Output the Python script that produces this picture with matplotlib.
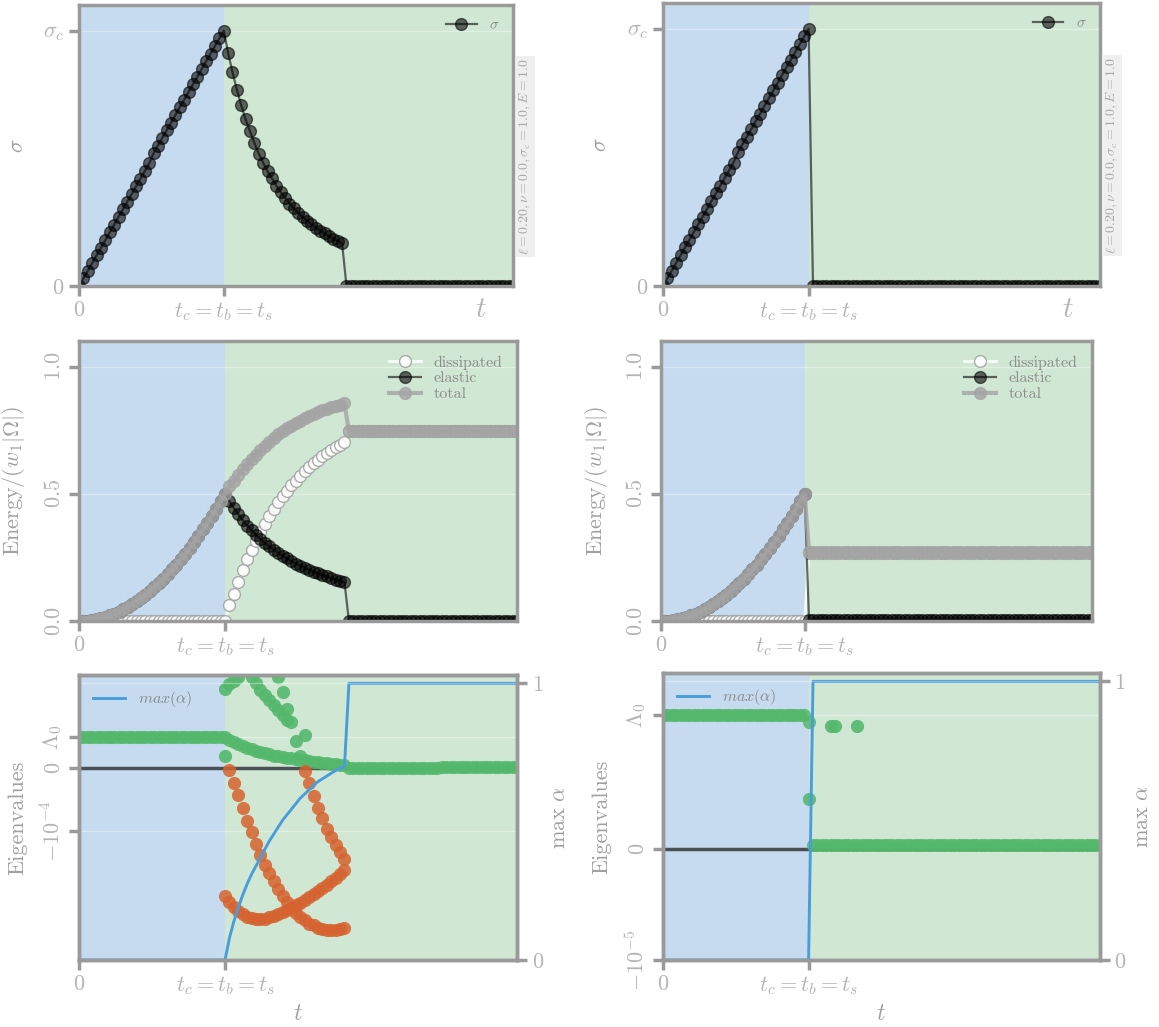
import numpy as np
import matplotlib
matplotlib.use("Agg")
import matplotlib.pyplot as plt

plt.rcParams['mathtext.fontset'] = 'cm'
plt.rcParams['font.family'] = ['cmr10', 'DejaVu Serif']
plt.rcParams['axes.formatter.use_mathtext'] = True

# ---------------- data ----------------
t_max = 3.0
t_c = 1.0
t = np.linspace(0, t_max, 100)          # uniform load steps

# stress, elastic phase (steps 0..33), same in both runs
stress_ramp = [0.00, 0.03, 0.06, 0.09, 0.12, 0.15, 0.18, 0.21, 0.24, 0.27, 0.30, 0.33,
               0.36, 0.39, 0.42, 0.45, 0.48, 0.52, 0.55, 0.58, 0.61, 0.64, 0.67, 0.70,
               0.73, 0.76, 0.79, 0.82, 0.85, 0.88, 0.91, 0.94, 0.97, 1.00]
# softening branch of the left run (steps 34..60)
stress_soft_l = [0.913, 0.837, 0.768, 0.707, 0.652, 0.605, 0.560, 0.518, 0.482, 0.449,
                 0.421, 0.393, 0.367, 0.345, 0.323, 0.304, 0.286, 0.270, 0.255, 0.241,
                 0.229, 0.217, 0.206, 0.195, 0.185, 0.176, 0.167]
stress_l = stress_ramp + stress_soft_l + [0.0] * 39
stress_r = stress_ramp + [0.0] * 66

# energies
elastic_ramp = [0.000, 0.0005, 0.002, 0.004, 0.007, 0.011, 0.017, 0.022, 0.029, 0.037,
                0.046, 0.056, 0.066, 0.078, 0.090, 0.103, 0.118, 0.133, 0.149, 0.166,
                0.184, 0.203, 0.222, 0.243, 0.264, 0.287, 0.310, 0.335, 0.360, 0.386,
                0.413, 0.441, 0.470, 0.500]
elastic_soft_l = [0.470, 0.444, 0.419, 0.396, 0.375, 0.357, 0.339, 0.322, 0.307, 0.293,
                  0.281, 0.268, 0.256, 0.246, 0.235, 0.226, 0.217, 0.209, 0.201, 0.194,
                  0.187, 0.181, 0.175, 0.168, 0.163, 0.157, 0.152]
dissip_soft_l = [0.062, 0.108, 0.155, 0.200, 0.242, 0.280, 0.315, 0.350, 0.382, 0.412,
                 0.440, 0.466, 0.490, 0.512, 0.533, 0.552, 0.570, 0.588, 0.604, 0.619,
                 0.633, 0.647, 0.660, 0.672, 0.683, 0.693, 0.703]
total_soft_l = [0.532, 0.552, 0.574, 0.596, 0.617, 0.637, 0.654, 0.672, 0.689, 0.705,
                0.721, 0.734, 0.746, 0.758, 0.768, 0.778, 0.787, 0.797, 0.805, 0.813,
                0.820, 0.828, 0.835, 0.840, 0.846, 0.850, 0.855]
elastic_l = elastic_ramp + elastic_soft_l + [0.0] * 39
dissip_l = [0.0] * 34 + dissip_soft_l + [0.745] * 39
total_l = elastic_ramp + total_soft_l + [0.745] * 39

elastic_r = elastic_ramp + [0.004] * 66
dissip_r = [0.0] * 34 + [0.268] * 66
total_r = elastic_ramp + [0.272] * 66

# eigenvalues, left run (units of 1e-4)
lam0_l = 0.49
eig_main_l = [0.49] * 33 + [0.49, 0.45, 0.41, 0.38, 0.35, 0.32, 0.30, 0.28, 0.26, 0.24,
                            0.22, 0.20, 0.19, 0.175, 0.165, 0.155, 0.145, 0.135, 0.125,
                            0.115, 0.105, 0.095, 0.085, 0.078, 0.07, 0.063, 0.056, 0.05] \
             + [0.0] * 21 + [0.015] * 18
eig_extra_step_l = [33, 34, 35, 36, 33, 39, 40, 41, 42, 43, 44, 45, 46, 47, 48,
                    45, 46, 47, 49, 50, 51]
eig_extra_val_l = [1.26, 1.33, 1.39, 1.45, 0.19, 1.455, 1.35, 1.24, 1.16, 1.08, 1.00,
                   0.93, 0.85, 0.77, 0.73, 1.455, 1.21, 0.94, 0.43, 0.20, 0.53]
neg_a_l = [-0.03, -0.24, -0.43, -0.64, -0.84, -1.01, -1.21, -1.38, -1.54, -1.67, -1.80,
           -1.92, -2.03, -2.13, -2.23, -2.31, -2.36, -2.41, -2.47, -2.50, -2.54, -2.56,
           -2.57, -2.57, -2.57, -2.56, -2.54]            # steps 34..60
neg_b_l = [-2.04, -2.13, -2.21, -2.27, -2.32, -2.36, -2.38, -2.40, -2.40, -2.39, -2.37,
           -2.35, -2.32, -2.29, -2.26, -2.22, -2.18, -2.14, -2.10, -2.05, -2.00, -1.95,
           -1.90, -1.85, -1.79, -1.74, -1.68, -1.62]     # steps 33..60
neg_c_l = [-0.04, -0.24, -0.44, -0.63, -0.80, -0.96, -1.10, -1.22, -1.34, -1.45]  # 51..60
alpha_max_l = [0.0] * 33 + [0.00, 0.08, 0.14, 0.19, 0.235, 0.275, 0.31, 0.34, 0.37,
                            0.40, 0.43, 0.455, 0.48, 0.505, 0.525, 0.545, 0.565, 0.585,
                            0.60, 0.615, 0.63, 0.645, 0.655, 0.665, 0.675, 0.685, 0.693,
                            0.70] + [1.0] * 39

# eigenvalues, right run (units of 1e-5)
lam0_r = 1.207
eig_main_r = [1.207] * 33 + [1.14] + [0.04] * 66
eig_extra_step_r = [33, 38, 39, 44]
eig_extra_val_r = [0.45, 1.11, 1.11, 1.11]
alpha_max_r = [0.0] * 34 + [1.0] * 66

# ---------------- style ----------------
blue_bg = '#c6dbef'
green_bg = '#d0e8d3'
spine_c = '#9a9a9a'
tick_c = '#b4b4b4'
label_c = '#a0a0a0'
green = '#54b86c'
orange = '#d6622f'
line_blue = '#4a9dd9'
tc_label = r'$t_c{=}t_b{=}t_s$'
spine_w = 2.5


def base(ax, ylim):
    ax.axvspan(0, t_c, color=blue_bg, lw=0, zorder=0)
    ax.axvspan(t_c, t_max, color=green_bg, lw=0, zorder=0)
    ax.set_xlim(0, t_max)
    ax.set_ylim(*ylim)
    for s in ax.spines.values():
        s.set_color(spine_c)
        s.set_linewidth(spine_w)
    ax.tick_params(colors=spine_c, labelcolor=tick_c, length=7, width=spine_w,
                   labelsize=16, direction='out')
    ax.set_xticks([0, t_c])
    ax.set_xticklabels(['$0$', tc_label])
    ax.grid(axis='y', color='white', alpha=0.35, lw=1)
    ax.grid(axis='x', visible=False)


def param_box(ax):
    ax.text(1.028, 0.46, r'$\ell = 0.20, \nu = 0.0, \sigma_c = 1.0, E = 1.0$',
            transform=ax.transAxes, rotation=90, fontsize=10, color='#a8a8a8',
            ha='center', va='center',
            bbox=dict(facecolor='#efefef', edgecolor='none', boxstyle='square,pad=0.15'))


fig = plt.figure(figsize=(11.59, 10.27), dpi=100)
ax_s_l = fig.add_axes([0.0682, 0.7215, 0.3745, 0.2736])
ax_s_r = fig.add_axes([0.5720, 0.7215, 0.3770, 0.2756])
ax_e_l = fig.add_axes([0.0682, 0.3953, 0.3779, 0.2726])
ax_e_r = fig.add_axes([0.5703, 0.3953, 0.3719, 0.2726])
ax_v_l = fig.add_axes([0.0682, 0.0652, 0.3779, 0.2775])
ax_v_r = fig.add_axes([0.5720, 0.0652, 0.3770, 0.2795])

# stress
for ax, stress in [(ax_s_l, stress_l), (ax_s_r, stress_r)]:
    base(ax, (0, 1.1))
    ax.plot(t, stress, color='black', marker='o', ms=8.5, lw=1.6, alpha=0.58,
            label=r'$\sigma$')
    ax.set_yticks([0, 1])
    ax.set_yticklabels(['$0$', r'$\sigma_c$'])
    ax.set_ylabel(r'$\sigma$', fontsize=16, color=label_c)
    ax.yaxis.set_label_coords(-0.12, 0.5)
    ax.text(0.926, -0.085, '$t$', transform=ax.transAxes, fontsize=21,
            color=tick_c, ha='center', va='center')
    leg = ax.legend(loc='upper right', frameon=False, fontsize=11)
    for tx in leg.get_texts():
        tx.set_color('#8a8a8a')
    param_box(ax)

# energy
for ax, el, di, to in [(ax_e_l, elastic_l, dissip_l, total_l),
                       (ax_e_r, elastic_r, dissip_r, total_r)]:
    base(ax, (0, 1.1))
    ax.plot(t, di, color='white', marker='o', mfc='white', mec='#a0a0a0', mew=1,
            ms=8.5, lw=2, alpha=0.85, label='dissipated')
    ax.plot(t, el, color='black', marker='o', ms=8.5, lw=1.6, alpha=0.58,
            label='elastic')
    ax.plot(t, to, color='#a4a4a4', marker='o', ms=8.5, lw=3, alpha=0.8,
            label='total')
    ax.set_yticks([0, 0.5, 1.0])
    ax.set_yticklabels(['$0.0$', '$0.5$', '$1.0$'], rotation=90, va='center')
    ax.set_ylabel(r'$\mathrm{Energy}/(w_1|\Omega|)$', fontsize=16, color=label_c)
    ax.yaxis.set_label_coords(-0.118, 0.5)
    leg = ax.legend(loc='upper right', frameon=False, fontsize=11.5,
                    handlelength=2, labelspacing=0.1)
    for tx in leg.get_texts():
        tx.set_color('#8a8a8a')

# eigenvalues
panels = [
    (ax_v_l, 1e-4, (-3.05, 1.48), lam0_l, r'$-10^{-4}$', eig_main_l,
     eig_extra_step_l, eig_extra_val_l, alpha_max_l),
    (ax_v_r, 1e-5, (-1.0, 1.586), lam0_r, r'$-10^{-5}$', eig_main_r,
     eig_extra_step_r, eig_extra_val_r, alpha_max_r),
]
for ax, unit, ylim, lam0, neg_label, main, ex_i, ex_v, amax in panels:
    base(ax, (ylim[0] * unit, ylim[1] * unit))
    ax.axhline(0, color='#4a5055', lw=2.5, zorder=2)
    ax.plot(t, np.array(main) * unit, ls='none', marker='o', ms=9.5, color=green,
            alpha=0.85, mew=0, zorder=3)
    ax.plot(t[ex_i], np.array(ex_v) * unit, ls='none', marker='o', ms=9.5,
            color=green, alpha=0.9, mew=0, zorder=3)
    ax.set_yticks([-unit, 0, lam0 * unit])
    ax.set_yticklabels([neg_label, '$0$', r'$\Lambda_0$'], rotation=90, va='center')
    ax.set_ylabel('Eigenvalues', fontsize=16, color=label_c)
    ax.yaxis.set_label_coords(-0.118, 0.5)
    ax.set_xlabel('$t$', fontsize=17, color=label_c)
    ax.xaxis.set_label_coords(0.5, -0.15)

    ax2 = ax.twinx()
    ax2.set_ylim(0, 1.03)
    ax2.plot(t, amax, color=line_blue, lw=2.1, label=r'$max(\alpha)$', zorder=1)
    ax2.set_yticks([0, 1])
    ax2.set_yticklabels(['$0$', '$1$'])
    for s in ax2.spines.values():
        s.set_color(spine_c)
        s.set_linewidth(spine_w)
        s.set_zorder(4)
    ax2.tick_params(colors=spine_c, labelcolor=tick_c, length=7, width=spine_w,
                    labelsize=16)
    ax2.grid(axis='y', color='white', alpha=0.35, lw=1)
    ax2.set_ylabel(r'$\max\ \alpha$', fontsize=16, color=label_c)
    leg = ax2.legend(loc='upper left', frameon=False, fontsize=11.5)
    for tx in leg.get_texts():
        tx.set_color('#8a8a8a')

# negative eigenvalues (left run only)
ax_v_l.plot(t[34:61], np.array(neg_a_l) * 1e-4, ls='none', marker='o', ms=9.5,
            color=orange, alpha=0.85, mew=0, zorder=3)
ax_v_l.plot(t[33:61], np.array(neg_b_l) * 1e-4, ls='none', marker='o', ms=9.5,
            color=orange, alpha=0.85, mew=0, zorder=3)
ax_v_l.plot(t[51:61], np.array(neg_c_l) * 1e-4, ls='none', marker='o', ms=9.5,
            color=orange, alpha=0.85, mew=0, zorder=3)

fig.savefig('out.png', dpi=100)
